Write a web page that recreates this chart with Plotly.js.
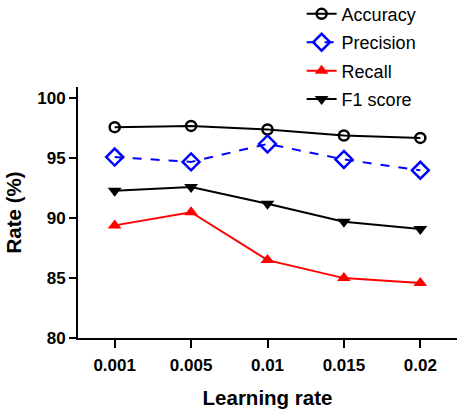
<!DOCTYPE html>
<html>
<head>
<meta charset="utf-8">
<script src="https://cdn.plot.ly/plotly-3.0.1.min.js"></script>
<style>html,body{margin:0;padding:0;background:#fff;}#chart{width:457px;height:412px;}</style>
</head>
<body>
<div id="chart"></div>
<script>
const categories = ["0.001", "0.005", "0.01", "0.015", "0.02"];
const accuracy = [97.6, 97.7, 97.4, 96.9, 96.7];
const precision = [95.1, 94.7, 96.2, 94.9, 94.0];
const recall = [89.4, 90.5, 86.5, 85.0, 84.6];
const f1score = [92.3, 92.6, 91.2, 89.7, 89.1];
const yTicks = [80, 85, 90, 95, 100];

const FONT = "Arial, 'Liberation Sans', sans-serif";

const traces = [
  {name: "Accuracy", x: categories, y: accuracy, type: "scatter", mode: "lines+markers",
   line: {color: "#000000", width: 2},
   marker: {symbol: "circle-open", size: 10, color: "#000000", line: {width: 2.5, color: "#000000"}},
   legendgroup: "a"},
  {name: "Precision", x: categories, y: precision, type: "scatter", mode: "lines+markers",
   line: {color: "#0000ff", width: 2, dash: "dash"},
   marker: {symbol: "diamond-open", size: 13, color: "#0000ff", line: {width: 2.5, color: "#0000ff"}},
   legendgroup: "b"},
  {name: "Recall", x: categories, y: recall, type: "scatter", mode: "lines+markers",
   line: {color: "#ff0000", width: 2},
   marker: {symbol: "triangle-up", size: 12, color: "#ff0000"},
   legendgroup: "c"},
  {name: "F1 score", x: categories, y: f1score, type: "scatter", mode: "lines+markers",
   line: {color: "#000000", width: 2},
   marker: {symbol: "triangle-down", size: 12, color: "#000000"},
   legendgroup: "d"}
];

const layout = {
  width: 457, height: 412,
  margin: {l: 78, r: 0, t: 87, b: 74, autoexpand: false},
  paper_bgcolor: "#ffffff", plot_bgcolor: "#ffffff",
  font: {family: FONT, color: "#000000"},
  showlegend: true,
  legend: {x: 0.59, xanchor: "left", y: 1.364, yanchor: "top",
           font: {family: FONT, size: 18, color: "#000000"},
           traceorder: "grouped", tracegroupgap: 2, bgcolor: "rgba(0,0,0,0)"},
  xaxis: {type: "category", range: [-0.48, 4.48], automargin: false,
          showline: true, linecolor: "#000000", linewidth: 2,
          ticks: "outside", ticklen: 8, tickwidth: 2, tickcolor: "#000000",
          showgrid: false, zeroline: false, ticklabelstandoff: 3,
          tickfont: {family: FONT, size: 17, color: "#000000", weight: "bold"},
          title: {text: "<b>Learning rate</b>", font: {family: FONT, size: 20.5, color: "#000000"}, standoff: 16}},
  yaxis: {range: [80, 100.95], tickvals: yTicks, ticktext: yTicks.map(String), automargin: false,
          showline: true, linecolor: "#000000", linewidth: 2,
          ticks: "outside", ticklen: 7, tickwidth: 2, tickcolor: "#000000",
          showgrid: false, zeroline: false,
          tickfont: {family: FONT, size: 17, color: "#000000", weight: "bold"},
          title: {text: "<b>Rate (%)</b>", font: {family: FONT, size: 20.5, color: "#000000"}, standoff: 10}}
};

Plotly.newPlot("chart", traces, layout, {displayModeBar: false, staticPlot: true});
</script>
</body>
</html>
